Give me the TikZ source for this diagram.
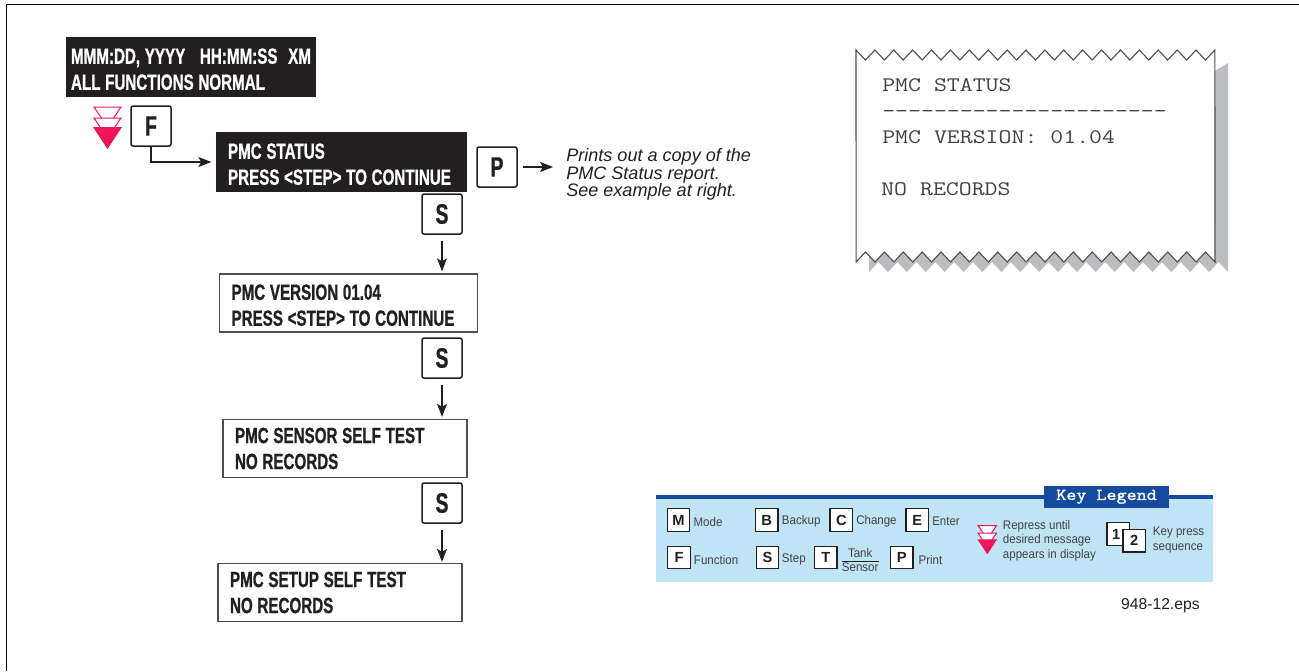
\documentclass[tikz,border=0pt]{standalone}
\usepackage{fontspec}
\usetikzlibrary{arrows.meta, positioning, calc}
\setmainfont{Liberation Sans}
\newfontfamily\lcdfont[FakeStretch=0.69,FakeBold=0.8]{Liberation Sans Bold}
\newfontfamily\narrowfont[FakeStretch=0.92]{Liberation Sans}
\newfontfamily\keyfont{Liberation Sans Bold}
\newfontfamily\reportfont[FakeStretch=1.215]{Latin Modern Mono}
\newfontfamily\tabfont[FakeStretch=1.18,FakeBold=1.8]{Latin Modern Mono}
\definecolor{cink}{HTML}{231F20}
\definecolor{cpink}{HTML}{EE1558}
\definecolor{cpanel}{HTML}{BEE4F6}
\definecolor{cnavy}{HTML}{144B9F}
\definecolor{cshade}{HTML}{BBBDC0}
\definecolor{cframe}{HTML}{4D4D4F}
\def\px{0.75pt}
\tikzset{
  lcdbox/.style={draw=cframe, line width=1.4*\px, fill=white, text=cink, font=\lcdfont\fontsize{16.5}{19.5}\selectfont,
    align=left, inner xsep=12*\px, inner ysep=0pt, minimum height=58*\px,
    execute at begin node={\spaceskip=3.5pt\relax}},
  lcdon/.style={lcdbox, draw=cink, fill=cink, text=white},
  lcdlow/.style={execute at begin node={\rule{0pt}{14.8pt}}},
  keybox/.style={draw=cink, line width=1.5*\px, fill=white, rounded corners=2*\px, text=cink, inner sep=0pt,
    minimum size=40*\px, font=\lcdfont\fontsize{21}{21}\selectfont},
  minikey/.style={draw=cink, line width=1.3*\px, fill=white, text=cink, inner sep=0pt,
    minimum size=22.5*\px, font=\keyfont\fontsize{11}{11}\selectfont},
  keytext/.style={anchor=west, inner sep=0pt, text=cink!85, font=\narrowfont\fontsize{9.4}{11}\selectfont, align=left},
  reporttext/.style={anchor=base west, inner sep=0pt, text=cink!85, font=\reportfont\fontsize{15.5}{15.5}\selectfont},
  flowarrow/.style={draw=cink, line width=1.1*\px, -{Stealth[length=13*\px, width=10*\px, inset=3*\px]}},
  repressmark/.pic={
    \draw[cpink, line width=1*\px, fill=white] (-13.5,0) -- (13.5,0) -- (0,20) -- cycle;
    \draw[cpink, line width=1*\px, fill=white] (-13.5,11) -- (13.5,11) -- (0,31) -- cycle;
    \fill[cpink] (-14.5,20) -- (14.5,20) -- (0,42) -- cycle;
  }
}
\begin{document}
\begin{tikzpicture}[x=0.75pt, y=-0.75pt]
  \useasboundingbox (0,0) rectangle (1299,671);
  \draw[black, line width=1.1*\px] (6.3,671) -- (6.3,4.3) -- (1299,4.3);

  % display messages
  \node[lcdon, lcdlow, inner xsep=4*\px, text width=240*\px] (clock) at (191,67) {\mbox{MMM:DD, YYYY\kern11pt HH:MM:SS\kern8pt XM}\\ALL FUNCTIONS NORMAL};
  \node[lcdon, lcdlow, inner xsep=11*\px, text width=227*\px] (status) at (341.5,162) {PMC STATUS\\\mbox{PRESS <STEP> TO CONTINUE}};
  \node[lcdbox, lcdlow, text width=234*\px] (version) at (348.5,303) {PMC VERSION 01.04\\\mbox{PRESS <STEP> TO CONTINUE}};
  \node[lcdbox, text width=220*\px] (sensor) at (345,448.5) {PMC SENSOR SELF TEST\\NO RECORDS};
  \node[lcdbox, text width=220*\px] (setup) at (340,592.5) {PMC SETUP SELF TEST\\NO RECORDS};

  % keys
  \node[keybox] (keyF) at (151,126) {F};
  \node[keybox] (keyP) at (497,167) {P};
  \node[keybox] (keyS1) at (442,214) {S};
  \node[keybox] (keyS2) at (442,358) {S};
  \node[keybox] (keyS3) at (442,503) {S};
  \pic at (107.5,107) {repressmark};

  \draw[flowarrow, shorten >=5*\px] (keyF.south) |- (status.west);
  \node[anchor=north west, inner sep=0pt, align=left, font=\itshape\fontsize{13.55}{13.3}\selectfont, text=cink] (note) at (566,148) {Prints out a copy of the\\PMC Status report.\\See example at right.};
  \draw[flowarrow, shorten <=5*\px, shorten >=13*\px] (keyP.east) -- (keyP.east -| note.west);
  \draw[flowarrow, shorten <=6*\px, shorten >=2*\px] (keyS1.south) -- (keyS1.south |- version.north);
  \draw[flowarrow, shorten <=6*\px, shorten >=2*\px] (keyS2.south) -- (keyS2.south |- sensor.north);
  \draw[flowarrow, shorten <=6*\px, shorten >=1*\px] (keyS3.south) -- (keyS3.south |- setup.north);

  % printed report
  \fill[cshade] (1215,71) -- (1228,63) -- (1228,272)
    foreach \i in {0,...,18} { -- ({1228-18.89*\i-9.45},262) -- ({1228-18.89*\i-18.89},272) } -- (869,240) -- cycle;
  \draw[cframe, line width=1.1*\px, fill=white] (856,50)
    foreach \i in {0,...,18} { -- ({856+18.89*\i+9.45},60) -- ({856+18.89*\i+18.89},50) }
    -- (1215,262)
    foreach \i in {0,...,18} { -- ({1215-18.89*\i-9.45},252) -- ({1215-18.89*\i-18.89},262) } -- cycle;
  \node[reporttext] (rtitle) at (882,91) {PMC STATUS};
  \node[reporttext] (rrule) at (882,117) {----------------------};
  \node[reporttext] (rversion) at (882,143) {PMC VERSION: 01.04};
  \node[reporttext] (rnone) at (881,195) {NO RECORDS};

  % key legend
  \fill[cpanel] (656,497) rectangle (1213,582);
  \fill[cnavy] (656,495) rectangle (1213,498.7);
  \node[fill=cnavy, text=white, inner sep=0pt, minimum width=125*\px, minimum height=21.7*\px, font=\tabfont\fontsize{12.4}{12.4}\selectfont] (legendtab) at (1106.5,496.8) {Key Legend};
  \foreach \name/\cx/\cy/\tx/\ty/\lab in {M/678.5/520/693.3/521.7/Mode, B/766.7/520/781.7/521.7/Backup, C/841.3/520/856/521.7/Change, E/917.3/520/932/521.7/Enter, F/679/557.5/693.7/559.7/Function, S/767.5/557.5/781.7/559.7/Step, P/901.8/557.5/918.3/559.7/Print}{
    \node[minikey] (mini\name) at (\cx,\cy) {\name};
    \node[keytext] (lab\name) at (\tx,\ty) {\lab};
  }
  \node[minikey] (miniT) at (825.8,557.5) {T};
  \node[keytext, anchor=center] (labTank) at (860.2,552.7) {Tank};
  \node[keytext, anchor=center] (labSensor) at (860.2,567.3) {Sensor};
  \draw[cink, line width=0.9*\px] ($(labSensor.north west)+(0,-1.5)$) -- ($(labSensor.north east)+(0,-1.5)$);
  \pic[scale=0.68] at (987.3,525.7) {repressmark};
  \node[keytext] (labrepress) at (1002.7,540.5) {Repress until\\desired message\\appears in display};
  \node[minikey] (mini1) at (1118.3,534) {1\kern3pt};
  \node[minikey] (mini2) at (1134.3,540.7) {2};
  \node[keytext] (labseq) at (1152.7,540) {Key press\\sequence};
  \node[anchor=base east, inner sep=0pt, font=\fontsize{11.8}{11.8}\selectfont, text=cink] (eps) at (1200,609) {948-12.eps};
\end{tikzpicture}
\end{document}
